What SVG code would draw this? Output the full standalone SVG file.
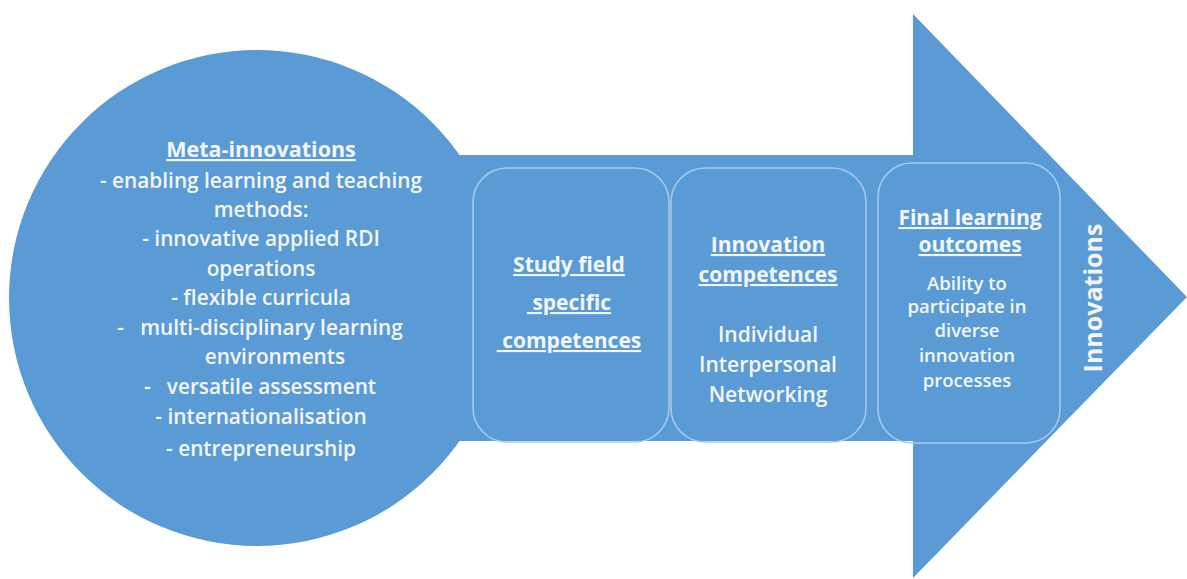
<svg xmlns="http://www.w3.org/2000/svg" width="1187" height="579" viewBox="0 0 1187 579">
<style>
.shape{fill:#5b9bd5;stroke:none}
.box{fill:none;stroke:#a6c8ec;stroke-width:1.6}
text{font-family:"Open Sans","Liberation Sans",sans-serif;fill:#f3f6fb;text-anchor:middle;white-space:pre;font-weight:600}
.c{font-size:20.8px}
.h{font-weight:bold;text-decoration:underline}
.b{font-size:21px}
.s{font-size:18.5px}
</style>
<rect width="1187" height="579" fill="#ffffff"/>
<g id="arrow">
<rect class="shape" x="400" y="155" width="515" height="286"/>
<polygon class="shape" points="913,14 1187,297 913,578"/>
</g>
<g id="meta-innovations">
<circle class="shape" cx="257" cy="298" r="248"/>
<text class="c h" x="261" y="157" style="font-size:21.5px">Meta-innovations</text>
<text class="c" x="261" y="188">- enabling learning and teaching</text>
<text class="c" x="261" y="217">methods:</text>
<text class="c" x="261" y="246">- innovative applied RDI</text>
<text class="c" x="261" y="276">operations</text>
<text class="c" x="261" y="305">- flexible curricula</text>
<text class="c" x="260" y="335">-   multi-disciplinary learning</text>
<text class="c" x="275" y="364">environments</text>
<text class="c" x="260" y="394">-   versatile assessment</text>
<text class="c" x="261" y="424">- internationalisation</text>
<text class="c" x="261" y="456">- entrepreneurship</text>
</g>
<g id="study-field">
<rect class="box" x="473" y="168" width="196" height="274" rx="34"/>
<text class="b h" x="569" y="272">Study field</text>
<text class="b h" x="569" y="310"> specific</text>
<text class="b h" x="569" y="348"> competences</text>
</g>
<g id="innovation-competences">
<rect class="box" x="671" y="168" width="195" height="274" rx="34"/>
<text class="b h" x="768" y="252">Innovation</text>
<text class="b h" x="768" y="282">competences</text>
<text class="b" x="768" y="342">Individual</text>
<text class="b" x="768" y="372">Interpersonal</text>
<text class="b" x="768" y="402">Networking</text>
</g>
<g id="final-learning">
<rect class="box" x="878" y="163" width="182" height="280" rx="34"/>
<text class="b h" x="970" y="225">Final learning</text>
<text class="b h" x="970" y="252">outcomes</text>
<text class="s" x="967" y="290">Ability to</text>
<text class="s" x="967" y="313">participate in</text>
<text class="s" x="967" y="337">diverse</text>
<text class="s" x="967" y="362">innovation</text>
<text class="s" x="967" y="387">processes</text>
</g>
<g id="innovations">
<text x="0" y="0" transform="translate(1102,298) rotate(-90)" style="font-size:25px;font-weight:bold">Innovations</text>
</g>
<g id="connectors"></g>
</svg>
